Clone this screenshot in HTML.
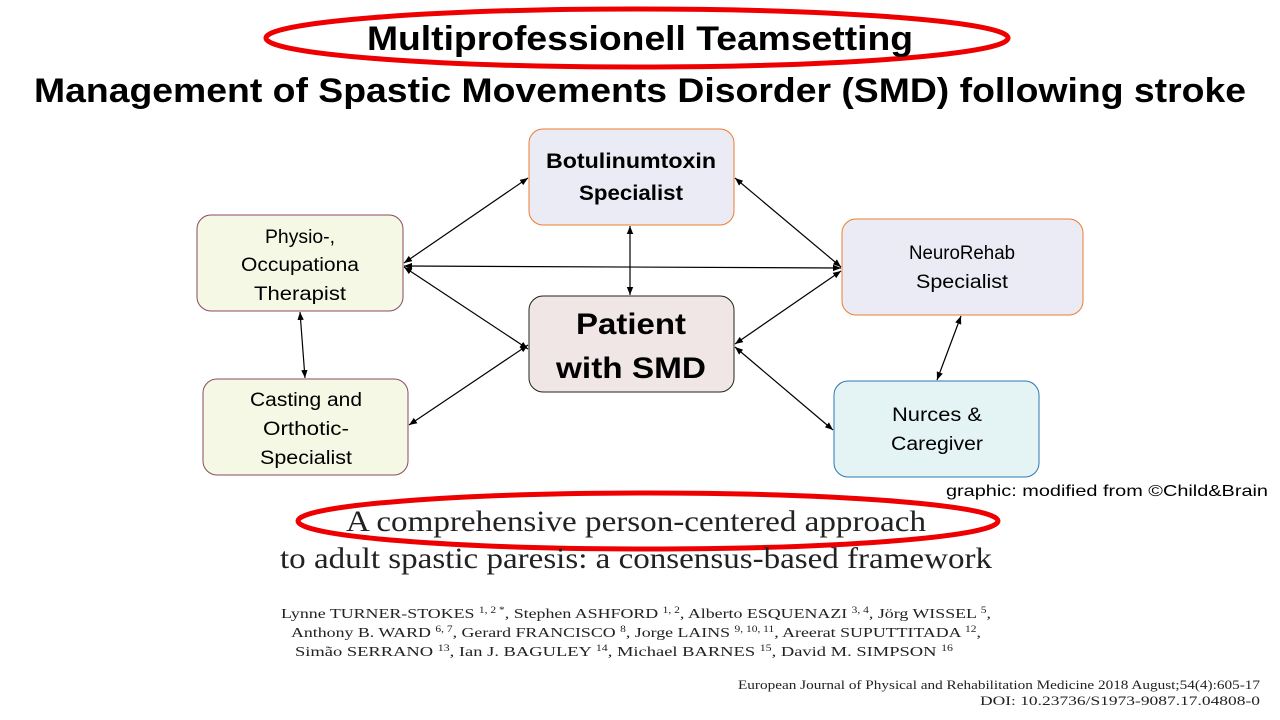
<!DOCTYPE html>
<html><head><meta charset="utf-8"><style>
html,body{margin:0;padding:0;background:#fff;}
svg{display:block;}
.s{font-family:"Liberation Sans",sans-serif;}
.r{font-family:"Liberation Serif",serif;fill:#222;}
</style></head><body>
<svg width="1280" height="720" viewBox="0 0 1280 720" xmlns="http://www.w3.org/2000/svg">
<defs>
<marker id="a" viewBox="0 0 10 10" refX="10" refY="5" markerWidth="8" markerHeight="8" orient="auto-start-reverse" markerUnits="userSpaceOnUse">
<path d="M0,1 L10,5 L0,9 z" fill="#000"/></marker>
</defs>
<ellipse cx="637" cy="38" rx="371" ry="29" fill="none" stroke="#e00" stroke-width="5"/>
<text class="s" x="640" y="50" font-size="34" font-weight="bold" text-anchor="middle" textLength="546" lengthAdjust="spacingAndGlyphs">Multiprofessionell Teamsetting</text>
<text class="s" x="640" y="102" font-size="34" font-weight="bold" text-anchor="middle" textLength="1212" lengthAdjust="spacingAndGlyphs">Management of Spastic Movements Disorder (SMD) following stroke</text>

<g stroke="#000" stroke-width="1.2" fill="none">
<line x1="404" y1="263" x2="528" y2="178" marker-start="url(#a)" marker-end="url(#a)"/>
<line x1="404" y1="266" x2="841" y2="268" marker-start="url(#a)" marker-end="url(#a)"/>
<line x1="404" y1="267" x2="528" y2="349" marker-start="url(#a)" marker-end="url(#a)"/>
<line x1="630" y1="226" x2="630" y2="295" marker-start="url(#a)" marker-end="url(#a)"/>
<line x1="735" y1="178" x2="841" y2="267" marker-start="url(#a)" marker-end="url(#a)"/>
<line x1="841" y1="271" x2="735" y2="344" marker-start="url(#a)" marker-end="url(#a)"/>
<line x1="735" y1="347" x2="833" y2="430" marker-start="url(#a)" marker-end="url(#a)"/>
<line x1="409" y1="425" x2="528" y2="345" marker-start="url(#a)" marker-end="url(#a)"/>
<line x1="300" y1="312" x2="305" y2="378" marker-start="url(#a)" marker-end="url(#a)"/>
<line x1="961" y1="316" x2="937" y2="380" marker-start="url(#a)" marker-end="url(#a)"/>
</g>

<rect x="529" y="129" width="205" height="96" rx="14" fill="#ebebf5" stroke="#ed7d31" stroke-width="1"/>
<text class="s" x="631" y="168" font-size="21" font-weight="bold" text-anchor="middle" textLength="170" lengthAdjust="spacingAndGlyphs">Botulinumtoxin</text>
<text class="s" x="631" y="200" font-size="21" font-weight="bold" text-anchor="middle" textLength="104" lengthAdjust="spacingAndGlyphs">Specialist</text>

<rect x="197" y="215" width="206" height="96" rx="14" fill="#f4f8e4" stroke="#8b4a62" stroke-width="1"/>
<text class="s" x="300" y="243" font-size="19" text-anchor="middle" textLength="70" lengthAdjust="spacingAndGlyphs">Physio-,</text>
<text class="s" x="300" y="271" font-size="19" text-anchor="middle" textLength="118" lengthAdjust="spacingAndGlyphs">Occupationa</text>
<text class="s" x="300" y="300" font-size="19" text-anchor="middle" textLength="92" lengthAdjust="spacingAndGlyphs">Therapist</text>

<rect x="842" y="219" width="241" height="96" rx="14" fill="#ebebf5" stroke="#ed7d31" stroke-width="1"/>
<text class="s" x="962" y="259" font-size="19" text-anchor="middle" textLength="106" lengthAdjust="spacingAndGlyphs">NeuroRehab</text>
<text class="s" x="962" y="288" font-size="19" text-anchor="middle" textLength="92" lengthAdjust="spacingAndGlyphs">Specialist</text>

<rect x="529" y="296" width="205" height="96" rx="14" fill="#f1e6e6" stroke="#222" stroke-width="1"/>
<text class="s" x="631" y="334" font-size="30" font-weight="bold" text-anchor="middle" textLength="110" lengthAdjust="spacingAndGlyphs">Patient</text>
<text class="s" x="631" y="378" font-size="30" font-weight="bold" text-anchor="middle" textLength="150" lengthAdjust="spacingAndGlyphs">with SMD</text>

<rect x="203" y="379" width="205" height="96" rx="14" fill="#f4f8e4" stroke="#8b4a62" stroke-width="1"/>
<text class="s" x="306" y="406" font-size="19" text-anchor="middle" textLength="112" lengthAdjust="spacingAndGlyphs">Casting and</text>
<text class="s" x="306" y="435" font-size="19" text-anchor="middle" textLength="86" lengthAdjust="spacingAndGlyphs">Orthotic-</text>
<text class="s" x="306" y="464" font-size="19" text-anchor="middle" textLength="92" lengthAdjust="spacingAndGlyphs">Specialist</text>

<rect x="834" y="381" width="205" height="96" rx="14" fill="#e4f4f4" stroke="#2e75b6" stroke-width="1"/>
<text class="s" x="937" y="421" font-size="19" text-anchor="middle" textLength="90" lengthAdjust="spacingAndGlyphs">Nurces &amp;</text>
<text class="s" x="937" y="450" font-size="19" text-anchor="middle" textLength="92" lengthAdjust="spacingAndGlyphs">Caregiver</text>

<text class="s" x="1268" y="496" font-size="16" text-anchor="end" textLength="322" lengthAdjust="spacingAndGlyphs">graphic: modified from ©Child&amp;Brain</text>

<ellipse cx="648" cy="521" rx="350" ry="28" fill="none" stroke="#e00" stroke-width="5"/>
<text class="r" x="636" y="531" font-size="30" text-anchor="middle" textLength="580" lengthAdjust="spacingAndGlyphs">A comprehensive person-centered approach</text>
<text class="r" x="636" y="568" font-size="30" text-anchor="middle" textLength="712" lengthAdjust="spacingAndGlyphs">to adult spastic paresis: a consensus-based framework</text>

<text class="r" x="636" y="618" font-size="14" text-anchor="middle" textLength="710" lengthAdjust="spacingAndGlyphs">Lynne TURNER-STOKES <tspan font-size="9" dy="-5">1, 2 *</tspan><tspan dy="5">, Stephen ASHFORD </tspan><tspan font-size="9" dy="-5">1, 2</tspan><tspan dy="5">, Alberto ESQUENAZI </tspan><tspan font-size="9" dy="-5">3, 4</tspan><tspan dy="5">, Jörg WISSEL </tspan><tspan font-size="9" dy="-5">5</tspan><tspan dy="5">,</tspan></text>
<text class="r" x="636" y="637" font-size="14" text-anchor="middle" textLength="690" lengthAdjust="spacingAndGlyphs">Anthony B. WARD <tspan font-size="9" dy="-5">6, 7</tspan><tspan dy="5">, Gerard FRANCISCO </tspan><tspan font-size="9" dy="-5">8</tspan><tspan dy="5">, Jorge LAINS </tspan><tspan font-size="9" dy="-5">9, 10, 11</tspan><tspan dy="5">, Areerat SUPUTTITADA </tspan><tspan font-size="9" dy="-5">12</tspan><tspan dy="5">,</tspan></text>
<text class="r" x="624" y="656" font-size="14" text-anchor="middle" textLength="658" lengthAdjust="spacingAndGlyphs">Simão SERRANO <tspan font-size="9" dy="-5">13</tspan><tspan dy="5">, Ian J. BAGULEY </tspan><tspan font-size="9" dy="-5">14</tspan><tspan dy="5">, Michael BARNES </tspan><tspan font-size="9" dy="-5">15</tspan><tspan dy="5">, David M. SIMPSON </tspan><tspan font-size="9" dy="-5">16</tspan></text>

<text class="r" x="1260" y="689" font-size="13" text-anchor="end" textLength="522" lengthAdjust="spacingAndGlyphs">European Journal of Physical and Rehabilitation Medicine 2018 August;54(4):605-17</text>
<text class="r" x="1260" y="705" font-size="13" text-anchor="end" textLength="280" lengthAdjust="spacingAndGlyphs">DOI: 10.23736/S1973-9087.17.04808-0</text>
</svg>
</body></html>
